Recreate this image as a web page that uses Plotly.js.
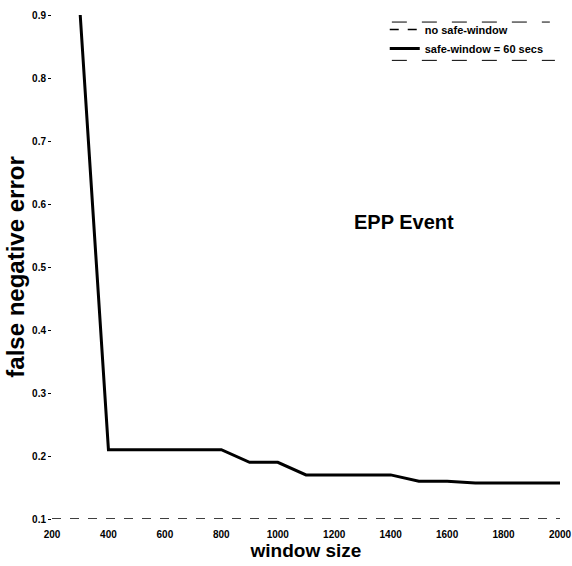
<!DOCTYPE html>
<html>
<head>
<meta charset="utf-8">
<script src="https://cdn.plot.ly/plotly-3.0.1.min.js"></script>
<style>html,body{margin:0;padding:0;background:#fff;}#chart{width:572px;height:566px;}</style>
</head>
<body>
<div id="chart"></div>
<script>
// Data
const windowSize = [300, 400, 500, 600, 700, 800, 900, 1000, 1100, 1200, 1300, 1400, 1500, 1600, 1700, 1800, 1900, 2000];
const errSafe60  = [0.9, 0.21, 0.21, 0.21, 0.21, 0.21, 0.19, 0.19, 0.17, 0.17, 0.17, 0.17, 0.16, 0.16, 0.157, 0.157, 0.157, 0.157];
const windowSizeNoSafe = [200, 400, 600, 800, 1000, 1200, 1400, 1600, 1800, 2000];
const errNoSafe  = [0.1, 0.1, 0.1, 0.1, 0.1, 0.1, 0.1, 0.1, 0.1, 0.1];
const xTicks = [200, 400, 600, 800, 1000, 1200, 1400, 1600, 1800, 2000];
const yTicks = [0.1, 0.2, 0.3, 0.4, 0.5, 0.6, 0.7, 0.8, 0.9];
const seriesNames = ["no safe-window", "safe-window = 60 secs"];
const annotationText = "EPP Event";

const fontFam = "Liberation Sans, Arial, sans-serif";

const traces = [
  {
    x: windowSizeNoSafe, y: errNoSafe, name: seriesNames[0], type: "scatter", mode: "lines",
    line: {color: "#000", width: 1.5, dash: "dash"}, cliponaxis: false
  },
  {
    x: windowSize, y: errSafe60, name: seriesNames[1], type: "scatter", mode: "lines",
    line: {color: "#000", width: 3}
  }
];

const layout = {
  width: 572, height: 566,
  margin: {l: 52, r: 12, t: 15, b: 47},
  paper_bgcolor: "#fff", plot_bgcolor: "#fff",
  showlegend: true,
  font: {family: fontFam, color: "#000"},
  xaxis: {
    range: [200, 2000], tickvals: xTicks, ticktext: xTicks.map(String),
    showgrid: false, zeroline: false, showline: false, ticks: "", ticklabelstandoff: 8,
    tickfont: {family: fontFam, size: 10, weight: "bold", color: "#000"},
    title: {text: "window size", font: {family: fontFam, size: 19, weight: "bold", color: "#000"}, standoff: 3}
  },
  yaxis: {
    range: [0.1, 0.9], tickvals: yTicks, ticktext: yTicks.map(v => v.toFixed(1)),
    showgrid: false, zeroline: false, showline: false, ticks: "outside", ticklen: 3, tickwidth: 1, tickcolor: "#000",
    tickfont: {family: fontFam, size: 10, weight: "bold", color: "#000"},
    title: {text: "false negative error", font: {family: fontFam, size: 24, weight: "bold", color: "#000"}, standoff: 0}
  },
  legend: {
    x: 0.655, xanchor: "left", y: 1.0, yanchor: "top",
    bgcolor: "rgba(0,0,0,0)", borderwidth: 0,
    font: {family: fontFam, size: 11, weight: "bold", color: "#000"},
    tracegroupgap: 0, itemwidth: 30
  },
  annotations: [{
    x: 1447, y: 0.571, xref: "x", yref: "y", text: annotationText, showarrow: false,
    font: {family: fontFam, size: 20, weight: "bold", color: "#000"}
  }],
  shapes: [
    {type: "line", xref: "paper", yref: "paper", x0: 0.669, x1: 0.98, y0: 0.986, y1: 0.986, line: {color: "#000", width: 1, dash: "longdash"}},
    {type: "line", xref: "paper", yref: "paper", x0: 0.669, x1: 0.99, y0: 0.91, y1: 0.91, line: {color: "#000", width: 1, dash: "longdash"}}
  ]
};

Plotly.newPlot("chart", traces, layout, {displayModeBar: false, staticPlot: true});
</script>
</body>
</html>
